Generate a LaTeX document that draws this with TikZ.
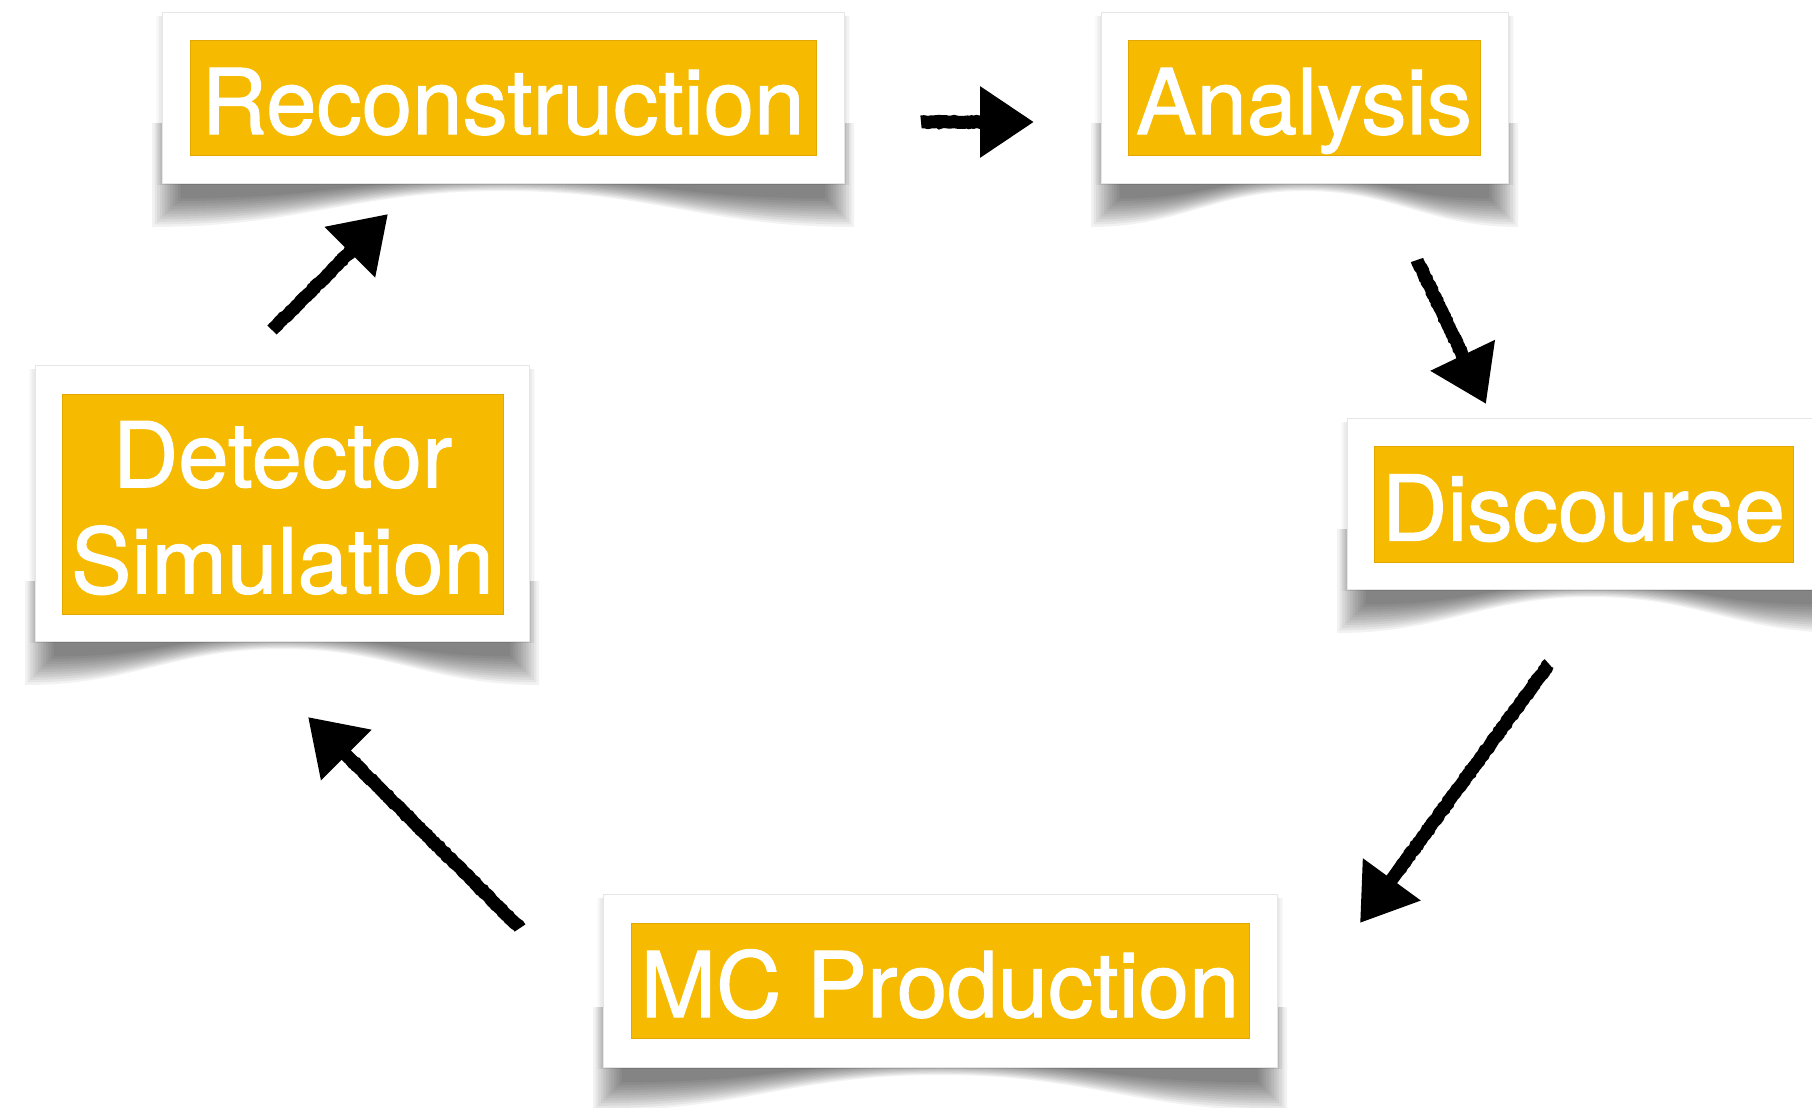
\documentclass[tikz,border=0pt]{standalone}
\usepackage{fontspec}
\setmainfont[FakeBold=1.2]{TeX Gyre Heros}
\usetikzlibrary{arrows.meta,calc,decorations.pathmorphing}
\definecolor{amber}{RGB}{246,187,0}
\definecolor{amberedge}{RGB}{226,168,0}
\definecolor{cardedge}{RGB}{230,230,230}

% soft curled shadow under a card: left x, right x, top y, bottom y (px)
\newcommand\curlshadow[4]{%
  \foreach \k in {0,...,11}{%
    \pgfmathsetmacro\s{\k*2.6}%
    \pgfmathsetmacro\xa{#1-10+\s}%
    \pgfmathsetmacro\xb{#2+10-\s}%
    \pgfmathsetmacro\xm{(#1+#2)/2}%
    \pgfmathsetmacro\w{#2-#1}%
    \pgfmathsetmacro\yl{#4+44-\s}%
    \pgfmathsetmacro\yc{#4+8-0.45*\s}%
    \pgfmathsetmacro\yt{#4-60}%
    \fill[black,opacity=0.05] (\xa,\yt) -- (\xa,\yl)
      .. controls ({\xa+0.22*\w},\yl) and ({\xm-0.22*\w},\yc) .. (\xm,\yc)
      .. controls ({\xm+0.22*\w},\yc) and ({\xb-0.22*\w},\yl) .. (\xb,\yl)
      -- (\xb,\yt) -- cycle;
  }%
  \foreach \k in {1,...,4}{%
    \fill[black,opacity=0.025] ({#1-\k*1.5},{#3+4}) rectangle ({#2+\k*1.5},{#4+2});
  }%
}

\tikzset{
  card/.style={fill=white, draw=cardedge, line width=0.4pt, inner sep=0pt},
  labelfont/.style={font=\fontsize{45.3}{53}\selectfont},
  label/.style={fill=amber, draw=amberedge, line width=0.5pt, text=white, inner sep=0pt,
    align=center, labelfont},
  oneline/.style={text height=40.5pt, text depth=4pt},
  shaft/.style={line width=6.5pt, draw=black, line cap=butt,
    decorate, decoration={random steps, segment length=1.2pt, amplitude=0.3pt}},
  tip/.style={line width=6.5pt, draw=black, line cap=butt,
    -{Triangle[length=27pt,width=34pt]}},
}
% rough charcoal arrow between two named points
\newcommand\sketcharrow[2]{%
  \draw[shaft] (#1) -- ($(#1)!0.8!(#2)$);
  \draw[tip] ($(#1)!0.75!(#2)$) -- (#2);
}

\begin{document}
\begin{tikzpicture}[x=0.5pt,y=-0.5pt]
\useasboundingbox (0,0) rectangle (1812,1108);
\fill[white] (0,0) rectangle (1812,1108);

% shadows
\begin{scope}
\clip (0,0) rectangle (1812,1108);
\curlshadow{162}{844}{12}{183}
\curlshadow{1101}{1508}{12}{183}
\curlshadow{1347}{1835}{418}{589}
\curlshadow{35}{529}{365}{641}
\curlshadow{603}{1277}{894}{1067}
\end{scope}

% cards
\node[card, minimum width=341pt, minimum height=85.5pt] (recocard) at (503,97.5) {};
\node[card, minimum width=203.5pt, minimum height=85.5pt] (anacard) at (1304.5,97.5) {};
\node[card, minimum width=244pt, minimum height=85.5pt] (disccard) at (1591,503.5) {};
\node[card, minimum width=247pt, minimum height=138pt] (detcard) at (282,503) {};
\node[card, minimum width=337pt, minimum height=86.5pt] (mccard) at (940,980.5) {};

% labels
\node[label, oneline, minimum width=313pt, minimum height=57.5pt] (reco) at (503,97.5) {Reconstruction};
\node[label, oneline, minimum width=176pt, minimum height=57.5pt] (ana) at (1304,97.5) {Analysis};
\node[label, oneline, minimum width=209.5pt, minimum height=58pt] (disc) at (1583.5,504) {Discourse};
\node[label, minimum width=220.5pt, minimum height=110pt] (det) at (282.5,504) {};
\node[text=white, align=center, labelfont, inner sep=0pt]
  (dettext) at (282.5,508) {Detector\\Simulation};
\node[label, oneline, minimum width=309pt, minimum height=57.5pt] (mc) at (940,980.5) {MC Production};

% arrow ends
\coordinate (a1s) at (921,122);  \coordinate (a1e) at (1034,122);
\coordinate (a2s) at (1417,260); \coordinate (a2e) at (1486,404);
\coordinate (a3s) at (1549,664); \coordinate (a3e) at (1360,923);
\coordinate (a4s) at (520,928);  \coordinate (a4e) at (308,717);
\coordinate (a5s) at (272,330);  \coordinate (a5e) at (388,214);

\sketcharrow{a1s}{a1e}
\sketcharrow{a2s}{a2e}
\sketcharrow{a3s}{a3e}
\sketcharrow{a4s}{a4e}
\sketcharrow{a5s}{a5e}
\end{tikzpicture}
\end{document}
